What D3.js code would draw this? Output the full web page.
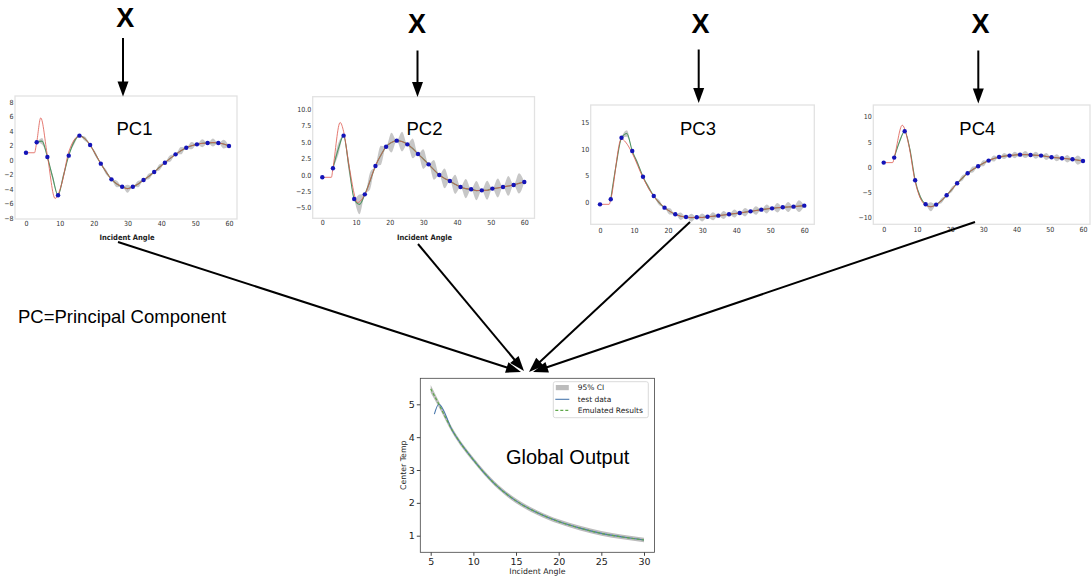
<!DOCTYPE html>
<html>
<head>
<meta charset="utf-8">
<script src="https://cdnjs.cloudflare.com/ajax/libs/d3/7.8.5/d3.min.js"></script>
<style>
body { margin: 0; background: #fff; }
svg { display: block; font-family: "Liberation Sans", Arial, sans-serif; }
</style>
</head>
<body>
<svg id="chart" width="1091" height="578"></svg>
<script>
// training angles (20 points) and the midpoints between them (from point 1 on)
var pcAngles = [0, 3.16, 6.32, 9.47, 12.63, 15.79, 18.95, 22.11, 25.26, 28.42, 31.58, 34.74, 37.89, 41.05, 44.21, 47.37, 50.53, 53.68, 56.84, 60];
var midAngles = [4.74, 7.89, 11.05, 14.21, 17.37, 20.53, 23.68, 26.84, 30, 33.16, 36.32, 39.47, 42.63, 45.79, 48.95, 52.11, 55.26, 58.42];

// PC1
var pc1Pts = [1.0, 2.44, 0.41, -4.87, 0.6, 3.36, 2.07, -0.5, -2.67, -3.68, -3.68, -2.76, -1.66, -0.37, 0.78, 1.7, 2.16, 2.34, 2.34, 1.93];
var pc1Mid = [2.6, -2.4, -2.2, 2.5, 2.95, 0.8, -1.65, -3.3, -3.95, -3.3, -2.25, -1.0, 0.22, 1.28, 1.97, 2.3, 2.4, 2.2];
var pc1Ci = [0.45, 0.4, 0.4, 0.35, 0.3, 0.3, 0.35, 0.45, 0.55, 0.45, 0.4, 0.4, 0.45, 0.5, 0.5, 0.55, 0.55, 0.6];
var pc1RedX = [0, 2.5, 3.16, 4.35, 6.32, 8.6, 10.6, 12.63, 15.8];
var pc1RedY = [1.0, 1.0, 2.44, 5.8, 0.6, -5.3, -3.2, 1.1, 3.3];

// PC2
var pc2Pts = [-0.38, 0.99, 5.95, -3.68, -2.97, 1.34, 4.27, 5.19, 4.63, 3.16, 1.59, -0.03, -0.94, -1.85, -2.2, -2.36, -2.1, -1.85, -1.55, -1.09];
var pc2Mid = [3.9, 1.3, -4.5, -0.9, 2.95, 4.9, 5.05, 4.0, 2.4, 0.75, -0.55, -1.45, -2.1, -2.4, -2.35, -2.0, -1.7, -1.3];
var pc2Ci = [0.9, 0.9, 1.5, 1.3, 1.45, 1.5, 1.5, 1.5, 1.5, 1.5, 1.5, 1.45, 1.45, 1.45, 1.45, 1.45, 1.5, 1.55];
var pc2RedX = [0, 2.7, 3.16, 5.3, 6.32, 8.0, 10.5, 12.63, 15.0];
var pc2RedY = [-0.38, -0.38, 0.99, 7.95, 6.6, 1.2, -4.2, -3.0, 0.3];

// PC3
var pc3Pts = [-0.38, 0.56, 12.1, 9.62, 4.8, 1.18, -1.0, -2.25, -2.76, -2.81, -2.7, -2.5, -2.25, -2.0, -1.7, -1.38, -1.13, -0.94, -0.82, -0.63];
var pc3Mid = [7.0, 12.9, 7.3, 2.85, -0.05, -1.7, -2.6, -2.88, -2.85, -2.62, -2.38, -2.12, -1.85, -1.55, -1.25, -1.03, -0.88, -0.72];
var pc3Ci = [0.3, 0.6, 0.4, 0.4, 0.5, 0.6, 0.7, 0.75, 0.75, 0.75, 0.75, 0.75, 0.8, 0.8, 0.85, 0.9, 0.95, 1.1];
var pc3RedX = [0, 2.7, 3.16, 6.3, 7.5, 9.47, 12.63, 15.79];
var pc3RedY = [-0.38, -0.38, 0.56, 11.9, 11.3, 9.2, 4.6, 1.1];

// PC4
var pc4Pts = [0.87, 1.87, 7.1, -2.64, -7.42, -7.48, -5.63, -3.24, -1.25, 0.14, 1.27, 1.99, 2.27, 2.46, 2.39, 2.27, 1.93, 1.73, 1.53, 1.19];
var pc4Mid = [5.0, 3.5, -6.0, -7.9, -6.7, -4.45, -2.2, -0.5, 0.75, 1.68, 2.17, 2.4, 2.47, 2.35, 2.1, 1.83, 1.63, 1.37];
var pc4Ci = [0.3, 0.4, 0.4, 0.9, 0.5, 0.5, 0.55, 0.6, 0.6, 0.6, 0.6, 0.65, 0.7, 0.7, 0.7, 0.7, 0.75, 0.9];
var pc4RedX = [0, 2.7, 3.16, 5.6, 7.5, 9.47, 12.63, 14.21, 15.79];
var pc4RedY = [0.87, 0.87, 1.87, 8.3, 4.5, -2.9, -7.6, -7.9, -7.48];

// global output
var gAngle = [5, 6, 7.5, 10, 12.5, 15, 17.5, 20, 22.5, 25, 27.5, 30];
var gEmul = [5.47, 4.98, 4.22, 3.31, 2.58, 2.06, 1.70, 1.43, 1.23, 1.07, 0.96, 0.87];
var gCi = [0.12, 0.09, 0.08, 0.07, 0.07, 0.07, 0.07, 0.07, 0.07, 0.07, 0.07, 0.07];
var testAngle = [5.43, 5.95, 7.5, 10, 12.5, 15, 17.5, 20, 22.5, 25, 27.5, 30];
var testTemp = [4.70, 5.0, 4.22, 3.31, 2.58, 2.06, 1.70, 1.43, 1.23, 1.07, 0.96, 0.87];
var legendLabels = ["95% CI", "test data", "Emulated Results"];

var narrow = "'Liberation Sans Narrow','DejaVu Sans Condensed','Arial Narrow',sans-serif";
var svg = d3.select("#chart");

function meanSeries(pts, mid, ci) {
	var out = [];
	for (var i = 1; i < pts.length; i++) {
		out.push({a: pcAngles[i], v: pts[i], c: 0});
		if (i < pts.length - 1) out.push({a: midAngles[i - 1], v: mid[i - 1], c: ci[i - 1]});
	}
	return out;
}

var panels = [
	{title: "PC1", tx: 116.5, box: [15, 96, 237, 219], x0: 26, x60: 229, yv: [8, -8], yp: [102, 218],
	 yTicks: [-8, -6, -4, -2, 0, 2, 4, 6, 8], fmt: d3.format("d"), pad: 2, xlab: true,
	 pts: pc1Pts, mid: pc1Mid, ci: pc1Ci, redX: pc1RedX, redY: pc1RedY},
	{title: "PC2", tx: 406.5, box: [312.7, 96.7, 534.5, 218.3], x0: 322.3, x60: 524.3, yv: [10, -5], yp: [109, 207.7],
	 yTicks: [-5, -2.5, 0, 2.5, 5, 7.5, 10], fmt: d3.format(".1f"), pad: 2, xlab: true,
	 pts: pc2Pts, mid: pc2Mid, ci: pc2Ci, redX: pc2RedX, redY: pc2RedY},
	{title: "PC3", tx: 680, box: [590.7, 105, 814.3, 224.3], x0: 600, x60: 804.3, yv: [15, 0], yp: [122.3, 202.3],
	 yTicks: [0, 5, 10, 15], fmt: d3.format("d"), pad: 3.5, xlab: false,
	 pts: pc3Pts, mid: pc3Mid, ci: pc3Ci, redX: pc3RedX, redY: pc3RedY},
	{title: "PC4", tx: 959.3, box: [873.3, 105, 1090, 224.3], x0: 883.7, x60: 1083, yv: [10, -10], yp: [116.7, 217.3],
	 yTicks: [-10, -5, 0, 5, 10], fmt: d3.format("d"), pad: 3, xlab: false,
	 pts: pc4Pts, mid: pc4Mid, ci: pc4Ci, redX: pc4RedX, redY: pc4RedY}
];

function drawPanel(p) {
	var g = svg.append("g");
	var x = d3.scaleLinear().domain([0, 60]).range([p.x0, p.x60]);
	var y = d3.scaleLinear().domain(p.yv).range(p.yp);

	g.append("rect")
		.attr("x", p.box[0]).attr("y", p.box[1])
		.attr("width", p.box[2] - p.box[0]).attr("height", p.box[3] - p.box[1])
		.attr("fill", "#fff").attr("stroke", "#e2e2e2").attr("stroke-width", 1.3);

	var mean = meanSeries(p.pts, p.mid, p.ci);
	var last = p.redX[p.redX.length - 1];
	var red = p.redX.map(function(a, i) { return {a: a, v: p.redY[i]}; })
		.concat(mean.filter(function(d) { return d.a > last + 0.5; }));

	var area = d3.area().curve(d3.curveMonotoneX)
		.x(function(d) { return x(d.a); })
		.y0(function(d) { return y(d.v - d.c); })
		.y1(function(d) { return y(d.v + d.c); });
	var line = d3.line().curve(d3.curveMonotoneX)
		.x(function(d) { return x(d.a); })
		.y(function(d) { return y(d.v); });

	g.append("path").attr("d", area(mean)).attr("fill", "#bdbdbd").attr("opacity", 0.85);
	g.append("path").attr("d", line(mean)).attr("fill", "none").attr("stroke", "#4e9462").attr("stroke-width", 1.1);
	g.append("path").attr("d", line(red)).attr("fill", "none").attr("stroke", "#de5a50").attr("stroke-width", 0.9).attr("opacity", 0.9);

	g.selectAll("circle").data(p.pts).enter().append("circle")
		.attr("cx", function(d, i) { return x(pcAngles[i]); })
		.attr("cy", function(d) { return y(d); })
		.attr("r", 2.2)
		.attr("fill", "#1414b8");

	var ya = d3.axisLeft(y).tickValues(p.yTicks).tickFormat(p.fmt).tickSize(0).tickPadding(1.5);
	g.append("g").attr("transform", "translate(" + p.box[0] + ",0)").call(ya)
		.attr("font-family", narrow).attr("font-size", 7)
		.call(function(s) { s.select(".domain").remove(); })
		.selectAll("text").attr("fill", "#333");

	var xa = d3.axisBottom(x).tickValues([0, 10, 20, 30, 40, 50, 60]).tickFormat(d3.format("d")).tickSize(0).tickPadding(p.pad);
	g.append("g").attr("transform", "translate(0," + p.box[3] + ")").call(xa)
		.attr("font-family", narrow).attr("font-size", 7)
		.call(function(s) { s.select(".domain").remove(); })
		.selectAll("text").attr("fill", "#333");

	if (p.xlab) {
		g.append("text")
			.attr("x", (p.box[0] + p.box[2]) / 2 + 1).attr("y", 239.5)
			.attr("text-anchor", "middle")
			.attr("font-family", narrow).attr("font-weight", "bold").attr("font-size", 7.5)
			.attr("fill", "#222")
			.text("Incident Angle");
	}

	g.append("text")
		.attr("x", p.tx).attr("y", 134.5)
		.attr("font-size", 18.5).attr("fill", "#000")
		.text(p.title);
}

panels.forEach(drawPanel);

// ---- global output panel ----
var gBox = [420.3, 378.3, 654.5, 552.3];
var gx = d3.scaleLinear().domain([5, 30]).range([430.7, 644]);
var gy = d3.scaleLinear().domain([1, 5]).range([535.7, 404.3]);
var gg = svg.append("g");

gg.append("rect")
	.attr("x", gBox[0]).attr("y", gBox[1])
	.attr("width", gBox[2] - gBox[0]).attr("height", gBox[3] - gBox[1])
	.attr("fill", "#fff").attr("stroke", "#444").attr("stroke-width", 0.8);

var gArea = d3.area().curve(d3.curveMonotoneX)
	.x(function(d, i) { return gx(gAngle[i]); })
	.y0(function(d, i) { return gy(d - gCi[i]); })
	.y1(function(d, i) { return gy(d + gCi[i]); });
gg.append("path").attr("d", gArea(gEmul)).attr("fill", "#bcbcbc");

gg.append("path")
	.attr("d", d3.line().curve(d3.curveMonotoneX)
		.x(function(d, i) { return gx(testAngle[i]); })
		.y(function(d) { return gy(d); })(testTemp))
	.attr("fill", "none").attr("stroke", "#4a78ad").attr("stroke-width", 1.1);

gg.append("path")
	.attr("d", d3.line().curve(d3.curveMonotoneX)
		.x(function(d, i) { return gx(gAngle[i]); })
		.y(function(d) { return gy(d); })(gEmul))
	.attr("fill", "none").attr("stroke", "#5fa84a").attr("stroke-width", 1.2)
	.attr("stroke-dasharray", "3,2");

gg.append("g").attr("transform", "translate(0," + gBox[3] + ")")
	.call(d3.axisBottom(gx).tickValues([5, 10, 15, 20, 25, 30]).tickFormat(d3.format("d")).tickSize(3.5).tickPadding(2))
	.attr("font-family", "'DejaVu Sans',sans-serif").attr("font-size", 9.5)
	.call(function(s) { s.select(".domain").remove(); s.selectAll("line").attr("stroke", "#444"); s.selectAll("text").attr("fill", "#222"); });

gg.append("g").attr("transform", "translate(" + gBox[0] + ",0)")
	.call(d3.axisLeft(gy).tickValues([1, 2, 3, 4, 5]).tickFormat(d3.format("d")).tickSize(3.5).tickPadding(2))
	.attr("font-family", "'DejaVu Sans',sans-serif").attr("font-size", 9.5)
	.call(function(s) { s.select(".domain").remove(); s.selectAll("line").attr("stroke", "#444"); s.selectAll("text").attr("fill", "#222"); });

gg.append("text")
	.attr("x", (gBox[0] + gBox[2]) / 2).attr("y", 574)
	.attr("text-anchor", "middle").attr("font-family", "'DejaVu Sans',sans-serif").attr("font-size", 7.8)
	.attr("fill", "#222").text("Incident Angle");
gg.append("text")
	.attr("transform", "translate(405.5," + ((gBox[1] + gBox[3]) / 2) + ") rotate(-90)")
	.attr("text-anchor", "middle").attr("font-family", "'DejaVu Sans',sans-serif").attr("font-size", 7.8)
	.attr("fill", "#222").text("Center Temp");

// legend
var lg = gg.append("g").attr("transform", "translate(553.3,381.7)");
lg.append("rect").attr("width", 95).attr("height", 36).attr("rx", 2)
	.attr("fill", "#fff").attr("stroke", "#d0d0d0").attr("stroke-width", 0.8);
var rows = lg.selectAll("g.row").data(legendLabels).enter().append("g")
	.attr("class", "row")
	.attr("transform", function(d, i) { return "translate(0," + [6, 17.6, 28.6][i] + ")"; });
rows.append("text").attr("x", 24.4).attr("y", 2.6)
	.attr("font-family", "'DejaVu Sans',sans-serif").attr("font-size", 7.5).attr("fill", "#222")
	.text(function(d) { return d; });
lg.append("rect").attr("x", 2.5).attr("y", 3.3).attr("width", 13).attr("height", 5.2).attr("fill", "#bcbcbc");
lg.append("line").attr("x1", 2).attr("x2", 16).attr("y1", 17.6).attr("y2", 17.6).attr("stroke", "#4a78ad").attr("stroke-width", 1.1);
lg.append("line").attr("x1", 2).attr("x2", 16).attr("y1", 28.6).attr("y2", 28.6).attr("stroke", "#5fa84a").attr("stroke-width", 1.2).attr("stroke-dasharray", "3,2");

gg.append("text").attr("x", 506).attr("y", 463.5).attr("font-size", 20).attr("fill", "#000").text("Global Output");

// ---- diagram text and arrows ----
var xLabels = [[125.2, 26.7], [417, 33.3], [700.5, 33.3], [980.5, 33.3]];
svg.selectAll("text.xin").data(xLabels).enter().append("text")
	.attr("class", "xin")
	.attr("x", function(d) { return d[0]; }).attr("y", function(d) { return d[1]; })
	.attr("text-anchor", "middle").attr("font-weight", "bold").attr("font-size", 27)
	.text("X");

svg.append("text").attr("x", 18).attr("y", 323).attr("font-size", 18.5).text("PC=Principal Component");

var arrows = [
	[123, 38, 123, 96.5], [417.5, 50.5, 417.5, 97], [698.7, 49.5, 698.7, 103], [978.3, 50.5, 978.3, 103.5],
	[118, 242, 521, 372], [418, 244, 524, 371], [690, 222, 529, 372], [975, 222, 533, 372]
];
arrows.forEach(function(a) {
	var dx = a[2] - a[0], dy = a[3] - a[1], L = Math.hypot(dx, dy);
	var ux = dx / L, uy = dy / L, hl = 15, hw = 5.5;
	var bx = a[2] - ux * hl, by = a[3] - uy * hl;
	svg.append("line").attr("x1", a[0]).attr("y1", a[1]).attr("x2", bx + ux).attr("y2", by + uy)
		.attr("stroke", "#000").attr("stroke-width", 2);
	svg.append("path")
		.attr("d", "M" + a[2] + "," + a[3] + "L" + (bx - uy * hw) + "," + (by + ux * hw) + "L" + (bx + uy * hw) + "," + (by - ux * hw) + "Z")
		.attr("fill", "#000");
});
</script>
</body>
</html>
